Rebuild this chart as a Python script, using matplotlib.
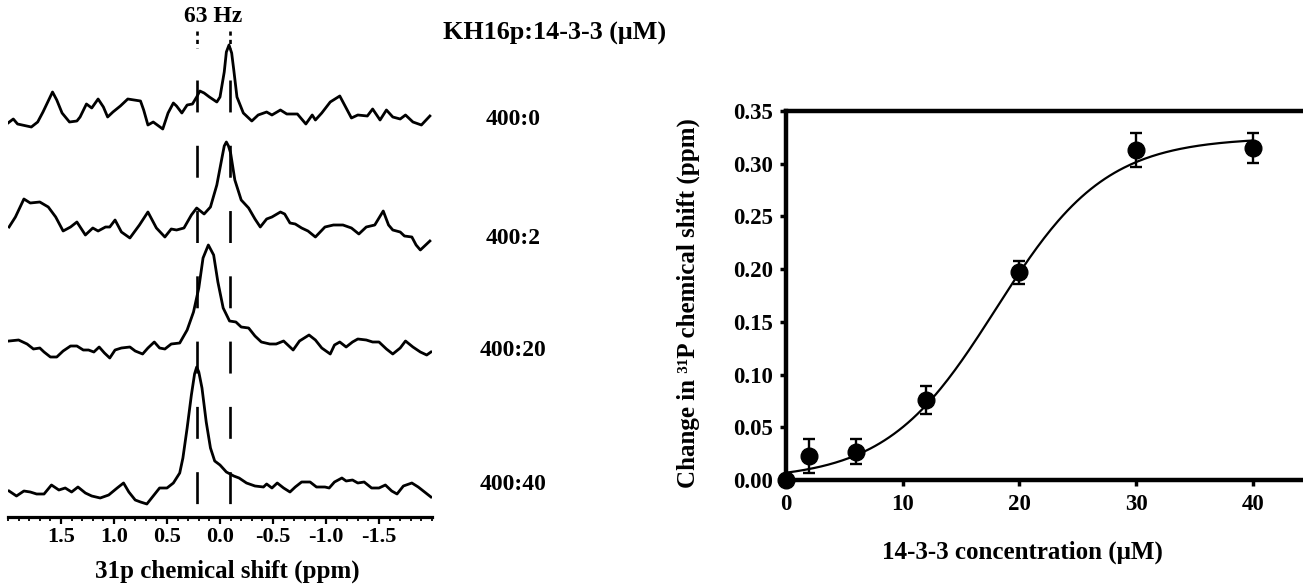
"""31P NMR titration of KH16p with 14-3-3: stacked spectra (left) and shift vs concentration (right)."""
import numpy as np
import matplotlib
matplotlib.use('Agg')
import matplotlib.pyplot as plt
from matplotlib.ticker import FixedLocator, MultipleLocator, FormatStrFormatter

plt.rcParams['font.family'] = ['Liberation Serif', 'DejaVu Serif']
plt.rcParams['font.weight'] = 'bold'
plt.rcParams['axes.unicode_minus'] = False
plt.rcParams['lines.scale_dashes'] = False

# spectra (ppm, intensity above own baseline, arb. units)
ppm_0 = [2.00, 1.95, 1.91, 1.78, 1.72, 1.67, 1.58, 1.54, 1.49, 1.42, 1.35, 1.32, 1.26, 1.21, 1.15, 1.10, 1.06, 1.01,
         0.94, 0.87, 0.75, 0.72, 0.68, 0.63, 0.54, 0.49, 0.44, 0.41, 0.36, 0.31, 0.26, 0.22, 0.19, 0.15, 0.10, 0.03,
         0.00, -0.04, -0.06, -0.085, -0.11, -0.13, -0.16, -0.22, -0.30, -0.36, -0.44, -0.49, -0.57, -0.63, -0.73,
         -0.81, -0.87, -0.90, -0.96, -1.04, -1.13, -1.16, -1.24, -1.30, -1.39, -1.44, -1.51, -1.57, -1.63, -1.70,
         -1.75, -1.82, -1.90, -1.98]
sig_0 = [-3, 1, -4, -7, -2, 8, 28, 20, 7, -2, -1, 3, 16, 12, 21, 13, 3, 8,
         14, 21, 19, 10, -5, -2, -9, 7, 17, 14, 7, 15, 16, 23, 29, 27, 23, 18,
         23, 48, 68, 75, 67, 50, 23, 7, -1, 5, 8, 5, 10, 6, 6,
         -4, 5, 0, 7, 18, 24, 18, 2, 5, 4, 11, 0, 10, 3, 1,
         5, -2, -5, 4]

ppm_2 = [1.99, 1.93, 1.85, 1.79, 1.70, 1.62, 1.55, 1.48, 1.41, 1.35, 1.27, 1.20, 1.15, 1.08, 1.04, 0.99, 0.93, 0.85,
         0.76, 0.68, 0.60, 0.52, 0.46, 0.41, 0.34, 0.27, 0.22, 0.15, 0.09, 0.03, -0.02, -0.04, -0.06, -0.08, -0.10,
         -0.14, -0.20, -0.27, -0.33, -0.38, -0.44, -0.49, -0.57, -0.61, -0.66, -0.71, -0.77, -0.83, -0.90, -0.99,
         -1.07, -1.16, -1.24, -1.31, -1.38, -1.46, -1.54, -1.59, -1.63, -1.70, -1.74, -1.81, -1.85, -1.89, -1.98]
sig_2 = [1, 11, 29, 25, 26, 21, 11, -3, 1, 6, -7, 0, -3, 1, 1, 8, -4, -10,
         3, 16, 0, -9, -1, -2, 0, 13, 20, 14, 21, 43, 71, 82, 86, 82, 75,
         48, 28, 20, 9, 1, 9, 11, 16, 14, 5, 4, 0, -3, -9, 1,
         3, 3, 0, -6, 1, 3, 17, 3, -2, -4, -8, -9, -17, -22, -13]

ppm_20 = [1.99, 1.90, 1.82, 1.76, 1.70, 1.66, 1.60, 1.54, 1.48, 1.41, 1.35, 1.29, 1.24, 1.19, 1.14, 1.09, 1.04, 0.99,
          0.93, 0.85, 0.80, 0.73, 0.68, 0.62, 0.57, 0.52, 0.46, 0.38, 0.31, 0.25, 0.20, 0.16, 0.11, 0.06, 0.02,
          -0.03, -0.09, -0.15, -0.20, -0.27, -0.33, -0.39, -0.47, -0.53, -0.60, -0.64, -0.69, -0.75, -0.84, -0.90,
          -0.96, -1.04, -1.08, -1.13, -1.19, -1.25, -1.30, -1.38, -1.44, -1.50, -1.57, -1.63, -1.70, -1.75, -1.82,
          -1.89, -1.95, -1.99]
sig_20 = [5, 6, 2, -3, -2, -6, -11, -11, -5, 0, 0, -4, -4, -6, -1, -7, -12, -4,
          -2, -1, -5, -8, -2, 4, -2, -3, 2, 3, 16, 34, 58, 88, 101, 91, 64,
          38, 25, 24, 19, 18, 10, 4, 2, 2, 5, 1, -4, 5, 11, 6,
          -2, -8, 1, 4, -1, 4, 7, 6, 4, 4, -3, -8, -2, 5, -1,
          -6, -9, -6]

ppm_40 = [1.99, 1.92, 1.85, 1.79, 1.73, 1.66, 1.59, 1.52, 1.46, 1.40, 1.34, 1.27, 1.21, 1.13, 1.05, 0.97, 0.91, 0.86,
          0.80, 0.75, 0.69, 0.63, 0.57, 0.50, 0.44, 0.38, 0.35, 0.31, 0.27, 0.24, 0.22, 0.20, 0.17, 0.13, 0.09,
          0.05, 0.00, -0.06, -0.13, -0.18, -0.25, -0.33, -0.41, -0.44, -0.49, -0.54, -0.60, -0.66, -0.71, -0.77,
          -0.85, -0.91, -0.99, -1.03, -1.08, -1.15, -1.19, -1.25, -1.30, -1.36, -1.43, -1.50, -1.56, -1.62, -1.67,
          -1.73, -1.81, -1.87, -1.93, -1.99]
sig_40 = [-3, -8, -3, -4, -6, -6, 3, -2, 0, -4, 1, -5, -8, -10, -7, 0, 5, -4,
          -12, -14, -16, -8, 0, 0, 5, 15, 30, 60, 93, 114, 121, 116, 100, 66, 40,
          27, 23, 16, 12, 10, 5, 2, 1, 4, 0, 5, 0, -4, 1, 6,
          6, 1, 1, 0, 6, 10, 7, 8, 5, 6, 0, 0, 3, -3, -6,
          2, 5, 1, -4, -9]

ratios = ['400:0', '400:2', '400:20', '400:40']
free_ppm = -0.09    # free KH16p resonance
bound_ppm = 0.22    # fully bound resonance

# titration
conc = [0, 2, 6, 12, 20, 30, 40]
dshift = [0.0, 0.023, 0.027, 0.076, 0.197, 0.313, 0.315]
dshift_err = [0.0, 0.016, 0.012, 0.013, 0.011, 0.016, 0.014]
# sigmoidal fit drawn through the points
fit_top = 0.325
fit_mid = 18.0
fit_width = 4.7

W, H = 1303, 584
fig = plt.figure(figsize=(W/100, H/100), dpi=100)

def ftext(x, y, s, **kw):
    fig.text(x/W, 1-y/H, s, **kw)

# ---- left: stacked spectra (y in pixel-like units above the ppm axis)
ax1 = fig.add_axes([8/W, (H-517)/H, 424/W, 517/H])
ax1.set_xlim(2.0, -2.0)
ax1.set_ylim(0, 517)
baselines = [397, 289, 171, 29]
for (x, y), base in zip([(ppm_0, sig_0), (ppm_2, sig_2), (ppm_20, sig_20), (ppm_40, sig_40)], baselines):
    ax1.plot(x, np.array(y)+base, color='k', lw=2.0, solid_joinstyle='round')
for xp in [bound_ppm, free_ppm]:
    ax1.plot([xp, xp], [437, 0], color='k', lw=1.9, ls=(0, (23, 24)))
    ax1.plot([xp, xp], [486, 469], color='k', lw=1.9, ls=(0, (3, 3)))
for s in ['left', 'right', 'top']:
    ax1.spines[s].set_visible(False)
ax1.spines['bottom'].set_linewidth(2.3)
ax1.set_yticks([])
ax1.xaxis.set_major_locator(FixedLocator([1.5, 1.0, 0.5, 0.0, -0.5, -1.0, -1.5]))
ax1.xaxis.set_major_formatter(FormatStrFormatter('%.1f'))
ax1.xaxis.set_minor_locator(MultipleLocator(0.1))
ax1.tick_params(axis='x', which='major', length=5, width=1.6, labelsize=16, pad=2)
ax1.tick_params(axis='x', which='minor', length=3, width=1.3)

ftext(227, 571, '31p chemical shift (ppm)', fontsize=18, ha='center', va='center')
ftext(213, 17, '63 Hz', fontsize=17, ha='center', va='center')
ftext(443, 33, 'KH16p:14-3-3 (\u03bcM)', fontsize=18.8, ha='left', va='center')
for lab, ypix in zip(ratios, [120, 238, 350, 485]):
    ftext(513, ypix, lab, fontsize=17, ha='center', va='center')

# ---- right: titration curve
ax2 = fig.add_axes([786/W, (H-480)/H, (W-786)/W, 369/H])
ax2.set_xlim(0, 44.3)
ax2.set_ylim(0, 0.35)
xf = np.linspace(0, 40, 200)
ax2.plot(xf, fit_top/(1+np.exp(-(xf-fit_mid)/fit_width)), color='k', lw=1.6)
ax2.errorbar(conc[1:], dshift[1:], yerr=dshift_err[1:], fmt='none', ecolor='k', elinewidth=1.7,
             capsize=4, capthick=1.7)
ax2.plot(conc, dshift, 'o', color='k', ms=12, clip_on=False, zorder=5)
ax2.spines['right'].set_visible(False)
for s in ['left', 'bottom', 'top']:
    ax2.spines[s].set_linewidth(3.2)
ax2.set_xticks([0, 10, 20, 30, 40])
ax2.set_yticks(np.arange(0, 0.351, 0.05))
ax2.yaxis.set_major_formatter(FormatStrFormatter('%.2f'))
ax2.tick_params(length=4, width=2.5, labelsize=16.5, pad=5)
ax2.tick_params(axis='x', pad=6)

ftext(688, 303, 'Change in \u00b3\u00b9P chemical shift (ppm)', fontsize=18, rotation=90,
      ha='center', va='center')
ftext(1022, 552, '14-3-3 concentration (\u03bcM)', fontsize=18, ha='center', va='center')

fig.savefig('out.png', dpi=100)
